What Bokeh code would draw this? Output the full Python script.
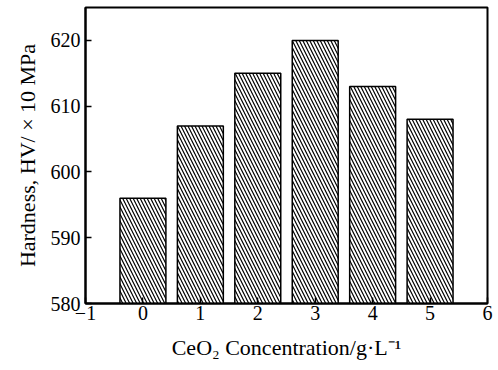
from bokeh.plotting import figure
from bokeh.embed import file_html
from bokeh.resources import INLINE
from bokeh.models import FixedTicker, Range1d, Title

concentration = [0, 1, 2, 3, 4, 5]
hardness = [596, 607, 615, 620, 613, 608]
x_ticks = [-1, 0, 1, 2, 3, 4, 5, 6]
y_ticks = [580, 590, 600, 610, 620]
x_title = "CeO\u2082 Concentration/g\u00b7L\u207b\u00b9"
y_title = "Hardness, HV/ \u00d7 10 MPa"

FONT = "Liberation Serif"

p = figure(width=496, height=370, output_backend="svg", toolbar_location=None,
           x_range=Range1d(-1, 6), y_range=Range1d(580, 625),
           min_border_left=85, min_border_right=9, min_border_top=7, min_border_bottom=66)

p.vbar(x=concentration, top=hardness, bottom=580, width=0.8,
       fill_color="white", line_color="black", line_width=1.5,
       hatch_pattern="left_diagonal_line", hatch_color="black",
       hatch_scale=7, hatch_weight=1.2)

p.grid.visible = False
p.outline_line_color = "black"
p.outline_line_width = 2
p.background_fill_color = "white"
p.border_fill_color = "white"

for ax in (p.xaxis[0], p.yaxis[0]):
    ax.axis_line_width = 2
    ax.axis_line_color = "black"
    ax.major_tick_in = 6
    ax.major_tick_out = 0
    ax.minor_tick_line_color = None
    ax.major_tick_line_width = 1.5
    ax.major_label_text_font = FONT
    ax.major_label_text_font_size = "20px"
    ax.major_label_text_color = "black"
    ax.axis_label_text_font = FONT
    ax.axis_label_text_font_size = "22px"
    ax.axis_label_text_font_style = "normal"
    ax.axis_label_text_color = "black"

p.xaxis[0].ticker = FixedTicker(ticks=x_ticks)
p.yaxis[0].ticker = FixedTicker(ticks=y_ticks)
p.xaxis[0].major_label_overrides = {-1: "\u22121"}
p.xaxis[0].major_label_standoff = 2
p.yaxis[0].major_label_standoff = 5
p.yaxis[0].axis_label = y_title
p.yaxis[0].axis_label_standoff = 8

p.add_layout(Title(text=x_title, align="center", offset=-10, standoff=21,
                   text_font=FONT, text_font_size="22px", text_font_style="normal",
                   text_color="black"), "below")

open("out.html", "w").write(file_html(p, INLINE))
